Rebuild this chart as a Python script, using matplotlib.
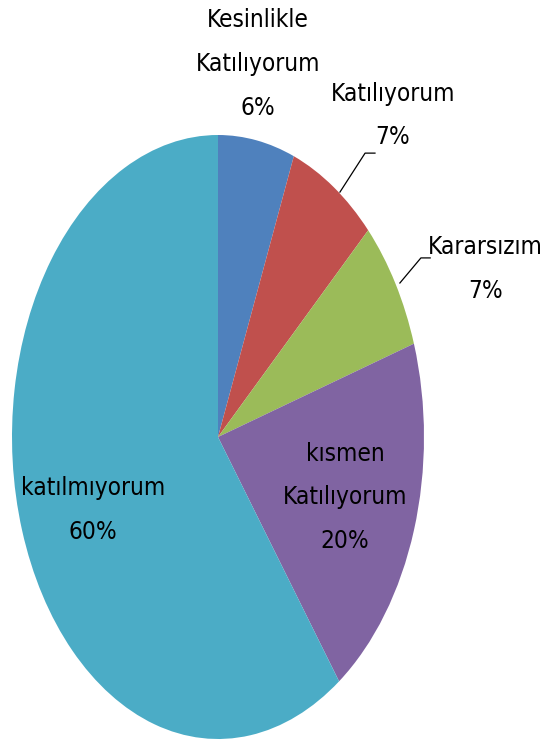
import matplotlib
matplotlib.use('Agg')
import matplotlib.pyplot as plt

labels = ['Kesinlikle\nKatılıyorum', 'Katılıyorum', 'Kararsızım', 'kısmen\nKatılıyorum', 'katılmıyorum']
values = [6, 7, 7, 20, 60]
colors = ['#4F81BD', '#C0504D', '#9BBB59', '#8064A2', '#4BACC6']

# label centres in pie data units (pie radius = 1, ellipse via aspect='auto')
label_pos = [(0.194, 1.235), (0.85, 1.065), (1.298, 0.556), (0.617, -0.199), (-0.607, -0.242)]
# leader lines for the two outside labels (index -> points)
leaders = {1: [(0.592, 0.811), (0.714, 0.940), (0.762, 0.940)],
           2: [(0.883, 0.510), (0.985, 0.593), (1.030, 0.593)]}

plt.rcParams['font.family'] = ['DejaVu Sans']
plt.rcParams['font.stretch'] = 'condensed'

fig = plt.figure(figsize=(5.46, 7.45), dpi=100)
ax = fig.add_axes([12 / 546, 6 / 745, 412 / 546, 604 / 745])
wedges, _ = ax.pie(values, colors=colors, startangle=90, counterclock=False,
                   radius=1, wedgeprops={'linewidth': 0})
ax.set_aspect('auto')
ax.set_xlim(-1, 1)
ax.set_ylim(-1, 1)
ax.axis('off')

for i, (lab, val) in enumerate(zip(labels, values)):
    x, y = label_pos[i]
    ax.text(x, y, f'{lab}\n{val}%', ha='center', va='center', fontsize=17.5,
            linespacing=2.03, color='black', clip_on=False, fontstretch='condensed')

for i, pts in leaders.items():
    xs, ys = zip(*pts)
    ax.plot(xs, ys, color='black', lw=0.9, clip_on=False)

fig.savefig('out.png', dpi=100)
